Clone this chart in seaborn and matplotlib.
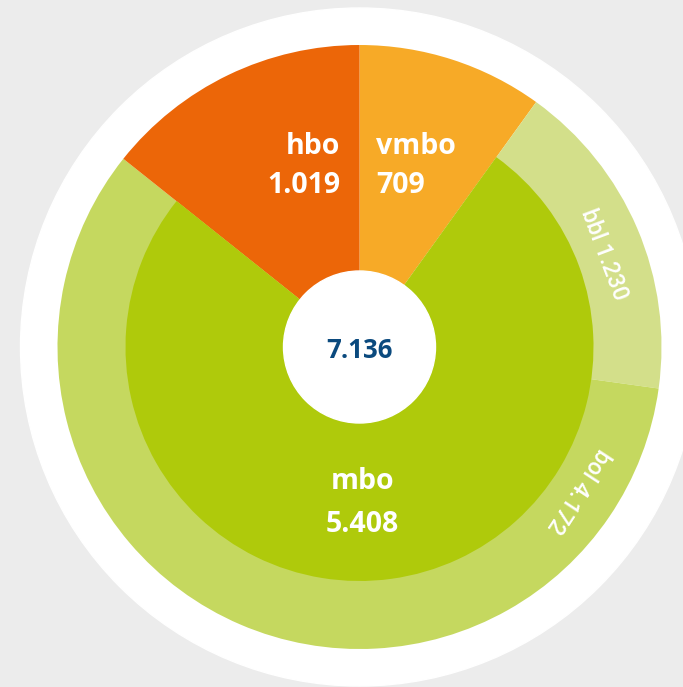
import numpy as np
import matplotlib
matplotlib.use("Agg")
import matplotlib.pyplot as plt
from matplotlib.patches import Circle
import seaborn as sns

# data (order: clockwise from 12 o'clock)
inner_labels = ["vmbo", "mbo", "hbo"]
inner_values = [709, 5408, 1019]
inner_text = ["709", "5.408", "1.019"]
outer_labels = ["bbl", "bol"]
outer_values = [1230, 4172]
outer_text = ["1.230", "4.172"]
total_text = "7.136"

sns.set_theme(style="white")
plt.rcParams["font.family"] = ["Open Sans", "DejaVu Sans"]

c_vmbo, c_mbo, c_hbo = "#f7aa27", "#afca0b", "#ec6608"
c_bbl, c_bol = "#d3df8a", "#c5d85f"
bg = "#ececec"
navy = "#0b4a7e"

fig = plt.figure(figsize=(6.83, 6.87), dpi=100, facecolor=bg)
ax = fig.add_axes([0, 0, 1, 1])
ax.set_facecolor(bg)

cx, cy = 359.5, 340
r_white, r_out, r_in, r_hole = 339, 302, 234, 76

ax.add_patch(Circle((cx, cy), r_white, color="white", zorder=0))

# outer: vmbo + ring (bbl, bol) + hbo
ring_vals = [inner_values[0]] + outer_values + [inner_values[2]]
ax.pie(ring_vals, colors=[c_vmbo, c_bbl, c_bol, c_hbo], startangle=90,
       counterclock=False, radius=r_out, center=(cx, cy),
       wedgeprops=dict(linewidth=0), frame=True)
# inner mbo
ax.pie(inner_values, colors=["none", c_mbo, "none"], startangle=90,
       counterclock=False, radius=r_in, center=(cx, cy),
       wedgeprops=dict(linewidth=0), frame=True)
ax.set_xlim(0, 683)
ax.set_ylim(0, 687)
ax.set_aspect("equal")
ax.axis("off")

ax.add_patch(Circle((cx, cy), r_hole, color="white", zorder=5))
ax.text(cx, cy - 3, total_text, ha="center", va="center", fontsize=18.5,
        fontweight="bold", color=navy, zorder=6)

big = dict(fontsize=20.5, fontweight="bold", color="white", va="baseline", zorder=6)
ax.text(cx - 19, cy + 193, inner_labels[2], ha="right", **big)
ax.text(cx - 19, cy + 154, inner_text[2], ha="right", **big)
ax.text(cx + 17, cy + 193, inner_labels[0], ha="left", **big)
ax.text(cx + 17, cy + 154, inner_text[0], ha="left", **big)
ax.text(cx + 3, cy - 142, inner_labels[1], ha="center", **big)
ax.text(cx + 3, cy - 185, inner_text[1], ha="center", **big)

# ring labels along the arc
r_lab = (r_in + r_out) / 2 - 7
label_angles = [20.7, -33.3]
for lab, txt, ang in zip(outer_labels, outer_text, label_angles):
    x = cx + r_lab * np.cos(np.radians(ang))
    y = cy + r_lab * np.sin(np.radians(ang))
    ax.text(x, y, f"{lab} {txt}", ha="center", va="center", rotation=ang - 90,
            rotation_mode="anchor", fontsize=16.5, family=["Roboto", "DejaVu Sans"],
            fontweight="medium", color="white", zorder=6)

fig.savefig("out.png", dpi=100, facecolor=bg)
